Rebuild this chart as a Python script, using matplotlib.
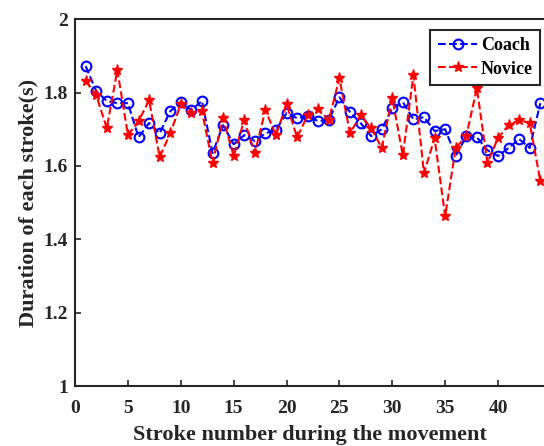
import numpy as np
import matplotlib.pyplot as plt

strokes = list(range(1, 45))
coach = [1.872, 1.804, 1.777, 1.771, 1.771, 1.678, 1.717, 1.689, 1.749, 1.774,
         1.752, 1.777, 1.635, 1.711, 1.659, 1.684, 1.668, 1.689, 1.698, 1.744,
         1.730, 1.736, 1.722, 1.725, 1.787, 1.747, 1.717, 1.681, 1.700, 1.757,
         1.774, 1.727, 1.733, 1.695, 1.700, 1.627, 1.681, 1.678, 1.643, 1.627,
         1.649, 1.673, 1.649, 1.771]
novice = [1.831, 1.793, 1.703, 1.861, 1.684, 1.722, 1.779, 1.624, 1.689, 1.768,
          1.744, 1.749, 1.608, 1.730, 1.627, 1.725, 1.635, 1.752, 1.684, 1.768,
          1.678, 1.738, 1.755, 1.725, 1.839, 1.689, 1.738, 1.703, 1.649, 1.785,
          1.629, 1.847, 1.580, 1.676, 1.463, 1.649, 1.681, 1.812, 1.608, 1.676,
          1.711, 1.725, 1.717, 1.559]
xticks = [0, 5, 10, 15, 20, 25, 30, 35, 40]
yticks = [1, 1.2, 1.4, 1.6, 1.8, 2]

plt.rcParams['font.family'] = ['Liberation Serif', 'DejaVu Serif']
plt.rcParams['font.weight'] = 'bold'

fig = plt.figure(figsize=(5.44, 4.46), dpi=100)
ax = fig.add_axes([0.138, 0.1345, 0.862, 0.8225])

ax.plot(strokes, coach, linestyle='--', color='blue', marker='o', markersize=7,
        markerfacecolor='none', markeredgewidth=1.5, linewidth=1.5, label='Coach')
ax.plot(strokes, novice, linestyle='--', color='red', marker='*', markersize=8,
        linewidth=1.5, label='Novice')

ax.set_xlim(0, 44.35)
ax.set_ylim(1, 2)
ax.set_xticks(xticks)
ax.set_yticks(yticks)
ax.set_yticklabels(['1', '1.2', '1.4', '1.6', '1.8', '2'])
ax.tick_params(direction='in', labelsize=14, width=1.2, length=4, pad=5,
               colors='#262626', labelcolor='#262626')
ax.tick_params(axis='x', pad=10)
for lab in ax.get_xticklabels() + ax.get_yticklabels():
    lab.set_fontweight('bold')
for side in ['left', 'bottom', 'top']:
    ax.spines[side].set_linewidth(1.5)
    ax.spines[side].set_color('#262626')
ax.spines['right'].set_visible(False)

ax.set_xlabel('Stroke number during the movement', fontsize=16, fontweight='bold',
              color='#262626', labelpad=6)
ax.set_ylabel('Duration of each stroke(s)', fontsize=16, fontweight='bold',
              color='#262626', labelpad=4)

leg = ax.legend(loc='upper right', bbox_to_anchor=(0.992, 0.97), fontsize=13,
                fancybox=False, framealpha=1, edgecolor='#262626', borderaxespad=0,
                handlelength=2.2, borderpad=0.4, labelspacing=0.35, handletextpad=0.2)
leg.get_frame().set_linewidth(1.5)
for t in leg.get_texts():
    t.set_fontweight('bold')

fig.savefig('out.png', dpi=100)
